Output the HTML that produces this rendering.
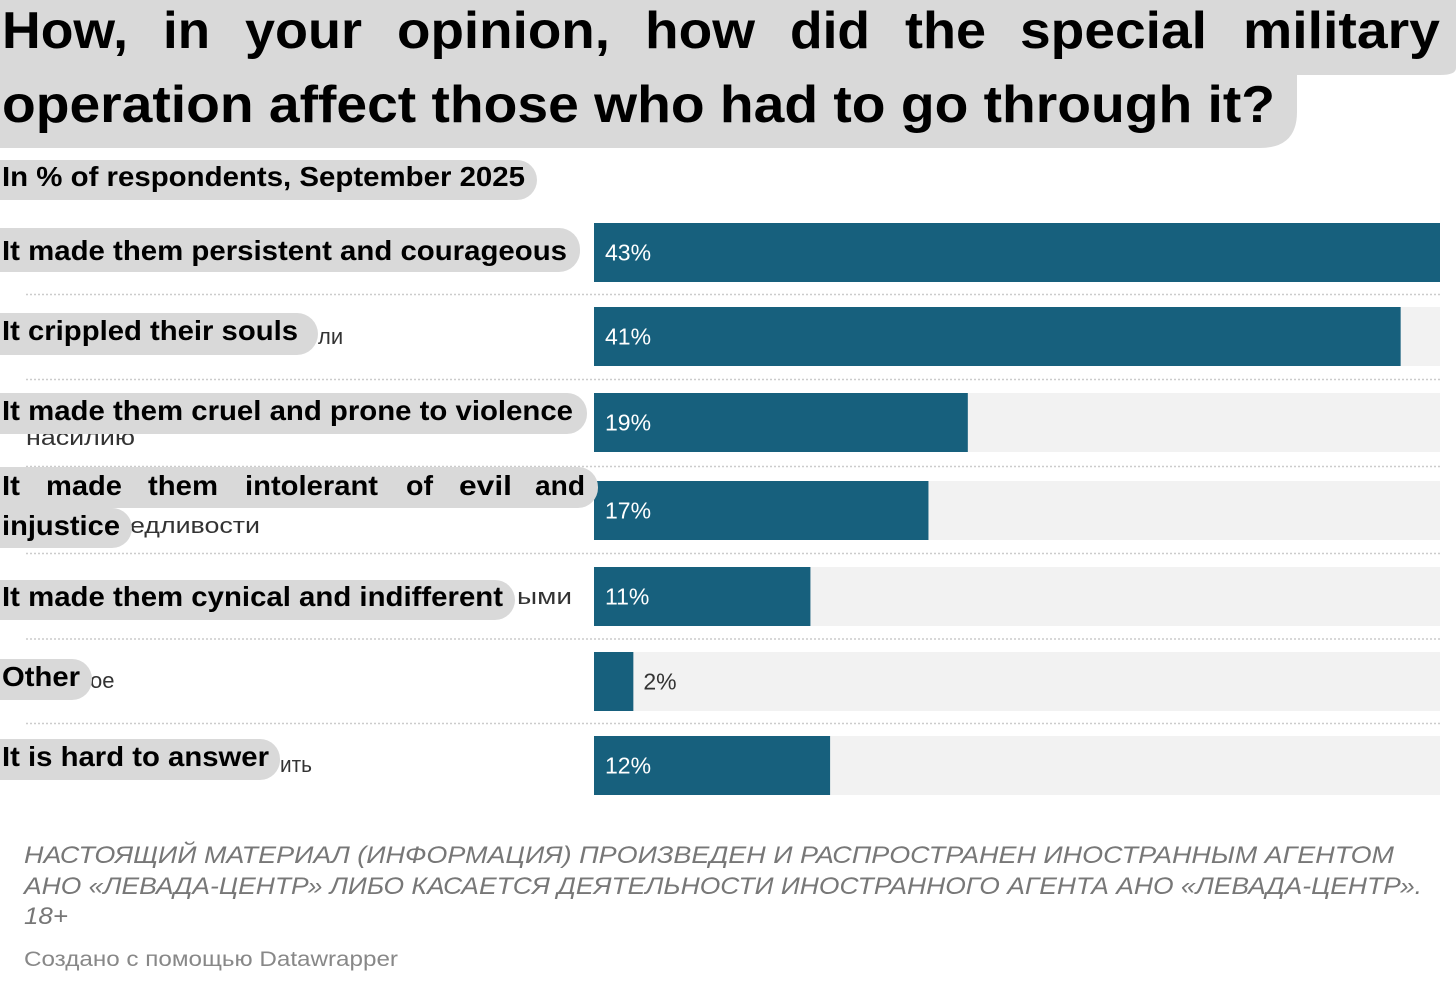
<!DOCTYPE html>
<html><head><meta charset="utf-8">
<style>
html,body{margin:0;padding:0;background:#fff;width:1456px;height:984px;overflow:hidden}
svg{display:block}
text{font-family:"Liberation Sans",sans-serif}
.b{font-weight:bold;fill:#000}
</style></head>
<body>
<svg id="c" width="1456" height="984" viewBox="0 0 1456 984">
  <g font-size="52">
    <path d="M-20 0 H1456 V68 Q1456 75 1440 75 H1297 L1297 112 Q1297 148 1260 148 H-20 Z" fill="#d9d9d9"/>
    <text class="b" x="2" y="48" textLength="126" lengthAdjust="spacingAndGlyphs">How,</text>
    <text class="b" x="163" y="48" textLength="47" lengthAdjust="spacingAndGlyphs">in</text>
    <text class="b" x="245" y="48" textLength="117" lengthAdjust="spacingAndGlyphs">your</text>
    <text class="b" x="397" y="48" textLength="213" lengthAdjust="spacingAndGlyphs">opinion,</text>
    <text class="b" x="645" y="48" textLength="110" lengthAdjust="spacingAndGlyphs">how</text>
    <text class="b" x="790" y="48" textLength="80" lengthAdjust="spacingAndGlyphs">did</text>
    <text class="b" x="905" y="48" textLength="81" lengthAdjust="spacingAndGlyphs">the</text>
    <text class="b" x="1020" y="48" textLength="187" lengthAdjust="spacingAndGlyphs">special</text>
    <text class="b" x="1243" y="48" textLength="197" lengthAdjust="spacingAndGlyphs">military</text>
    <text class="b" x="2" y="122" textLength="1273" lengthAdjust="spacingAndGlyphs">operation affect those who had to go through it?</text>
  </g>
  <g>
    <rect x="-30" y="160" width="567" height="40" rx="20" fill="#d9d9d9"/>
    <text class="b" x="2" y="186" font-size="28" textLength="523" lengthAdjust="spacingAndGlyphs">In % of respondents, September 2025</text>
  </g>
  <g id="rows"></g>
  <g font-size="22" fill="#333">
    <text x="318" y="344" font-size="22">ли</text>
    <text x="26" y="445" textLength="109" lengthAdjust="spacingAndGlyphs">насилию</text>
    <text x="130" y="533" textLength="130" lengthAdjust="spacingAndGlyphs">едливости</text>
    <text x="517" y="604" textLength="55" lengthAdjust="spacingAndGlyphs">ыми</text>
    <text x="90" y="688">ое</text>
    <text x="280" y="772" textLength="32" lengthAdjust="spacingAndGlyphs">ить</text>

    <rect x="-30" y="228" width="610" height="44" rx="21" fill="#d9d9d9"/>
    <text class="b" x="2" y="260" font-size="28" textLength="565" lengthAdjust="spacingAndGlyphs">It made them persistent and courageous</text>
    <rect x="-30" y="313" width="348" height="42" rx="21" fill="#d9d9d9"/>
    <text class="b" x="2" y="340" font-size="28" textLength="296" lengthAdjust="spacingAndGlyphs">It crippled their souls</text>
    <rect x="-30" y="393" width="617" height="41" rx="20" fill="#d9d9d9"/>
    <text class="b" x="2" y="420" font-size="28" textLength="571" lengthAdjust="spacingAndGlyphs">It made them cruel and prone to violence</text>
    <rect x="-30" y="467" width="628" height="41" rx="20" fill="#d9d9d9"/>
    <rect x="-30" y="508" width="162" height="40" rx="20" fill="#d9d9d9"/>
    <g font-size="28">
      <text class="b" x="2" y="495" textLength="18" lengthAdjust="spacingAndGlyphs">It</text>
      <text class="b" x="46" y="495" textLength="76" lengthAdjust="spacingAndGlyphs">made</text>
      <text class="b" x="148" y="495" textLength="70" lengthAdjust="spacingAndGlyphs">them</text>
      <text class="b" x="245" y="495" textLength="133" lengthAdjust="spacingAndGlyphs">intolerant</text>
      <text class="b" x="406" y="495" textLength="27" lengthAdjust="spacingAndGlyphs">of</text>
      <text class="b" x="459" y="495" textLength="53" lengthAdjust="spacingAndGlyphs">evil</text>
      <text class="b" x="535" y="495" textLength="50" lengthAdjust="spacingAndGlyphs">and</text>
    </g>
    <text class="b" x="2" y="535" font-size="28" textLength="118" lengthAdjust="spacingAndGlyphs">injustice</text>
    <rect x="-30" y="580" width="545" height="40" rx="20" fill="#d9d9d9"/>
    <text class="b" x="2" y="606" font-size="28" textLength="501" lengthAdjust="spacingAndGlyphs">It made them cynical and indifferent</text>
    <rect x="-30" y="659" width="122" height="41" rx="20" fill="#d9d9d9"/>
    <text class="b" x="2" y="686" font-size="28" textLength="78" lengthAdjust="spacingAndGlyphs">Other</text>
    <rect x="-30" y="739" width="310" height="41" rx="20" fill="#d9d9d9"/>
    <text class="b" x="2" y="766" font-size="28" textLength="267" lengthAdjust="spacingAndGlyphs">It is hard to answer</text>
  </g>
  <g fill="#777" font-style="italic" font-size="24">
    <text x="24" y="863" textLength="1370" lengthAdjust="spacingAndGlyphs">НАСТОЯЩИЙ МАТЕРИАЛ (ИНФОРМАЦИЯ) ПРОИЗВЕДЕН И РАСПРОСТРАНЕН ИНОСТРАННЫМ АГЕНТОМ</text>
    <text x="24" y="894" textLength="1398" lengthAdjust="spacingAndGlyphs">АНО «ЛЕВАДА-ЦЕНТР» ЛИБО КАСАЕТСЯ ДЕЯТЕЛЬНОСТИ ИНОСТРАННОГО АГЕНТА АНО «ЛЕВАДА-ЦЕНТР».</text>
    <text x="24" y="924" textLength="44" lengthAdjust="spacingAndGlyphs">18+</text>
  </g>
  <text x="24" y="966" font-size="21" fill="#888" textLength="374" lengthAdjust="spacingAndGlyphs">Создано с помощью Datawrapper</text>
</svg>
<script>
const categories = ["persistent","crippled","cruel","intolerant","cynical","other","hard"];
const values = [43, 41, 19, 17, 11, 2, 12];
const valueLabels = ["43%","41%","19%","17%","11%","2%","12%"];

const NS = "http://www.w3.org/2000/svg";
const x0 = 594, x1 = 1440, maxV = 43;
function xScale(v){ return x0 + (x1 - x0) * v / maxV; }
const rowTops = [223, 307, 393, 481, 567, 652, 736];
const barH = 59;
const g = document.getElementById('rows');
function mk(tag, attrs){ const e = document.createElementNS(NS, tag); for (const k in attrs) e.setAttribute(k, attrs[k]); g.appendChild(e); return e; }
categories.forEach((c, i) => {
  const y = rowTops[i];
  const tr = mk('rect', {x: x0, y: y, width: x1 - x0, height: barH, fill: '#f2f2f2'});
  
  
  const w = xScale(values[i]) - x0;
  const b = mk('rect', {x: x0, y: y, width: w, height: barH, fill: '#17607d'});
  
  
  const inside = w > 60;
  const t = mk('text', {x: inside ? x0 + 11 : x0 + w + 10, y: y + barH/2 + 8, 'font-size': 23, fill: inside ? '#fff' : '#333'});
  t.textContent = valueLabels[i];
  
  
  if (i < categories.length - 1) {
    const ly = y + barH + (rowTops[i+1] - y - barH) / 2;
    const l = mk('line', {x1: 26, x2: 1440, y1: ly, y2: ly, stroke: '#ccc', 'stroke-width': 1.5, 'stroke-dasharray': '2 2'});
    
    
  }
});
</script>
</body></html>
